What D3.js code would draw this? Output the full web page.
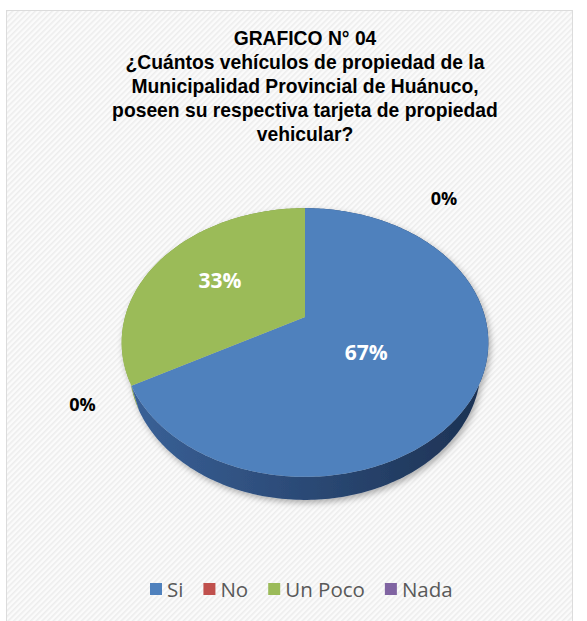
<!DOCTYPE html>
<html>
<head>
<meta charset="utf-8">
<script src="https://cdn.jsdelivr.net/npm/d3@7"></script>
<style>
  html, body { margin: 0; padding: 0; background: #fff; }
  svg { display: block; }
</style>
</head>
<body>
<div id="app"></div>
<script>
// data
const categories = ['Si', 'No', 'Un Poco', 'Nada']
const values = [67, 0, 33, 0]
const labels = ['67%', '0%', '33%', '0%']
const colors = ['#4f81bd', '#c0504d', '#9bbb59', '#8064a2']
const sideDark = ['#1c3152', '#7a2f2d', '#5f7735', '#4b3a63']
const sideLight = ['#3a6299', '#a34341', '#85a44b', '#6c5590']
const titleLines = [
    'GRAFICO N° 04',
    '¿Cuántos vehículos de propiedad de la',
    'Municipalidad Provincial de Huánuco,',
    'poseen su respectiva tarjeta de propiedad',
    'vehicular?'
]

const width = 587
const height = 621

const svg = d3.select('#app')
    .append('svg')
    .attr('width', width)
    .attr('height', height)

const defs = svg.append('defs')

// background hatch
const pat = defs.append('pattern')
    .attr('id', 'hatch')
    .attr('patternUnits', 'userSpaceOnUse')
    .attr('width', 4)
    .attr('height', 4)
    .attr('patternTransform', 'rotate(45)')
pat.append('rect').attr('width', 4).attr('height', 4).attr('fill', '#fbfbfb')
pat.append('rect').attr('width', 1.6).attr('height', 4).attr('fill', '#ededed')

const shadow = defs.append('filter')
    .attr('id', 'shadow')
    .attr('x', '-20%').attr('y', '-20%')
    .attr('width', '140%').attr('height', '140%')
shadow.append('feDropShadow')
    .attr('dx', 2).attr('dy', 3)
    .attr('stdDeviation', 3)
    .attr('flood-color', '#000')
    .attr('flood-opacity', 0.3)

// chart area
svg.append('rect')
    .attr('x', 6.5)
    .attr('y', 10.5)
    .attr('width', 566)
    .attr('height', 625)
    .attr('fill', 'url(#hatch)')
    .attr('stroke', '#dcdcdc')
    .attr('stroke-width', 1)

// title
svg.append('g')
    .selectAll('text')
    .data(titleLines)
    .enter()
    .append('text')
        .attr('x', 305)
        .attr('y', (d, i) => 45 + i * 24)
        .attr('text-anchor', 'middle')
        .style('font-family', '"Liberation Sans", Arial, sans-serif')
        .style('font-weight', 'bold')
        .style('font-size', '19.3px')
        .style('fill', '#000')
        .text(d => d)

// 3d pie projection
const cx = 305, cy = 317
const tilt = 46 * Math.PI / 180
const camDist = 3.66          // in pie radii
const focal = 180 * camDist   // px
const thick = 0.21            // in pie radii

function project(a, k, h) {
    const x = k * Math.sin(a), z = k * Math.cos(a), y = h
    const d = camDist + z * Math.cos(tilt) - y * Math.sin(tilt)
    const yy = y * Math.cos(tilt) + z * Math.sin(tilt)
    return [cx + focal * x / d, cy - focal * yy / d]
}

const pie = d3.pie().sort(null).value(d => d)
const arcs = pie(values).map((a, i) => Object.assign(a, { i: i }))

const line = d3.line()
const arcPts = (a0, a1, k, h) => {
    const n = Math.max(2, Math.ceil((a1 - a0) / (Math.PI / 180)))
    return d3.range(n + 1).map(j => project(a0 + (a1 - a0) * j / n, k, h))
}

const pieG = svg.append('g').attr('filter', 'url(#shadow)')

// side gradients
arcs.forEach(a => {
    const g = defs.append('linearGradient')
        .attr('id', 'side' + a.i)
        .attr('gradientUnits', 'userSpaceOnUse')
        .attr('x1', cx - 185).attr('y1', 0)
        .attr('x2', cx + 185).attr('y2', 0)
    g.append('stop').attr('offset', '0%').attr('stop-color', sideLight[a.i])
    g.append('stop').attr('offset', '100%').attr('stop-color', sideDark[a.i])
})

const visible = arcs.filter(a => a.endAngle > a.startAngle)

// rims, far ones first
visible
    .slice()
    .sort((p, q) => Math.cos((q.startAngle + q.endAngle) / 2) - Math.cos((p.startAngle + p.endAngle) / 2))
    .forEach(a => {
        const top = arcPts(a.startAngle, a.endAngle, 1, 0)
        const bot = arcPts(a.startAngle, a.endAngle, 1, -thick).reverse()
        pieG.append('path')
            .attr('d', line(top.concat(bot)) + 'Z')
            .attr('fill', 'url(#side' + a.i + ')')
    })

// top faces
visible.forEach(a => {
    const pts = [project(0, 0, 0)].concat(arcPts(a.startAngle, a.endAngle, 1, 0))
    pieG.append('path')
        .attr('d', line(pts) + 'Z')
        .attr('fill', colors[a.i])
})

// data labels
const labelG = svg.append('g')
arcs.forEach(a => {
    const mid = (a.startAngle + a.endAngle) / 2
    let p, fill, size
    if (a.value > 0) {
        // big slices sit nearer the centre, small ones further out
        const k = a.endAngle - a.startAngle > Math.PI ? 0.38 : 0.58
        p = project(mid, k, 0)
        p[1] += a.endAngle - a.startAngle > Math.PI ? 10 : 0
        fill = '#fff'
        size = 21
    } else {
        // zero slices sit outside the rim; the one at the top seam is pushed aside
        const seam = mid >= 2 * Math.PI - 1e-6
        p = project(seam ? mid + 0.7 : mid, seam ? 1.45 : 1.25, 0)
        fill = '#000'
        size = 18
    }
    labelG.append('text')
        .attr('x', p[0])
        .attr('y', p[1])
        .attr('dy', '0.35em')
        .attr('text-anchor', 'middle')
        .style('font-family', '"Open Sans", sans-serif')
        .style('font-weight', 'bold')
        .style('font-size', size + 'px')
        .style('fill', fill)
        .text(labels[a.i])
})

// legend
const legend = svg.append('g').attr('transform', 'translate(150,590)')
let lx = 0
categories.forEach((c, i) => {
    const item = legend.append('g').attr('transform', 'translate(' + lx + ',0)')
    item.append('rect')
        .attr('x', 0)
        .attr('y', -7)
        .attr('width', 12)
        .attr('height', 12)
        .attr('fill', colors[i])
    const t = item.append('text')
        .attr('x', 17)
        .attr('y', 0)
        .attr('dy', '0.35em')
        .style('font-family', '"Open Sans", sans-serif')
        .style('font-size', '20.5px')
        .style('fill', '#595959')
        .text(c)
    lx += 17 + t.node().getComputedTextLength() + 20
})
</script>
</body>
</html>
